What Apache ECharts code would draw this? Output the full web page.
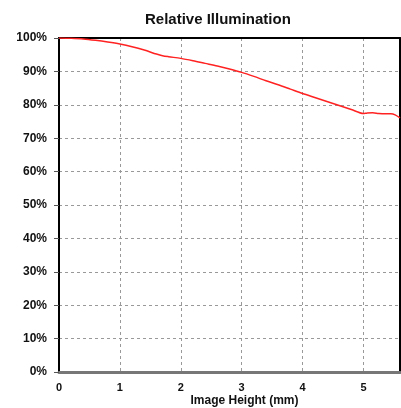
<!DOCTYPE html>
<html><head><meta charset="utf-8">
<script src="https://cdn.jsdelivr.net/npm/echarts@6/dist/echarts.min.js"></script>
<style>html,body{margin:0;padding:0;background:#fff}#c{width:401px;height:408px}</style>
</head><body><div id="c"></div>
<script>
const imageHeight = [0,0.2,0.4,0.6,0.8,1.0,1.2,1.4,1.6,1.7,1.8,2.0,2.2,2.4,2.6,2.8,3.0,3.2,3.4,3.6,3.8,4.0,4.2,4.4,4.6,4.8,5.0,5.05,5.15,5.25,5.35,5.45,5.52,5.6];
const illumination = [100,99.9,99.7,99.3,98.8,98.2,97.4,96.4,95.2,94.7,94.4,93.9,93.2,92.4,91.6,90.7,89.7,88.5,87.2,86.0,84.7,83.4,82.2,81.0,79.8,78.6,77.4,77.5,77.6,77.4,77.3,77.3,77.0,76.1];
const xTicks = [0,1,2,3,4,5];
const yTicks = [0,10,20,30,40,50,60,70,80,90,100];

const chart = echarts.init(document.getElementById('c'), null, {renderer:'canvas'});
const font = 'Liberation Sans, Arial, sans-serif';
const dash = {show:true, lineStyle:{color:'#999', type:[3,3], width:1}};
chart.setOption({
  animation:false,
  title:{text:'Relative Illumination', left:140, top:7,
    textStyle:{fontFamily:font, fontWeight:'bold', fontSize:15, color:'#111'}},
  grid:{left:59, right:1, top:38, bottom:36, containLabel:false, outerBoundsMode:'none'},
  xAxis:[{type:'value', min:0, max:5.6, interval:1,
    name:'Image Height (mm)', nameLocation:'middle', nameGap:23, nameMoveOverlap:false,
    nameTextStyle:{fontFamily:font, fontWeight:'bold', fontSize:12, color:'#111', padding:[0,0,0,30]},
    axisLine:{show:true, onZero:false, lineStyle:{color:'#777', width:3}},
    axisTick:{show:false},
    axisLabel:{showMaxLabel:false, margin:10, fontFamily:font, fontWeight:'bold', fontSize:11, color:'#111',
      formatter:v=>xTicks.includes(v)?String(v):''},
    splitLine:dash, z:3
  },{type:'value', position:'top', min:0, max:5.6, interval:1,
    axisLine:{show:true, onZero:false, lineStyle:{color:'#000', width:2}},
    axisTick:{show:false}, axisLabel:{show:false}, splitLine:{show:false}, z:3}],
  yAxis:[{type:'value', min:0, max:100, interval:10,
    axisLine:{show:true, lineStyle:{color:'#000', width:2}},
    axisTick:{show:true, length:5, lineStyle:{color:'#555', width:1}},
    axisLabel:{margin:12, fontFamily:font, fontWeight:'bold', fontSize:12, color:'#111',
      formatter:v=>yTicks.includes(v)?v+'%':''},
    splitLine:dash, z:3
  },{type:'value', position:'right', min:0, max:100, interval:10,
    axisLine:{show:true, onZero:false, lineStyle:{color:'#000', width:2}},
    axisTick:{show:false}, axisLabel:{show:false}, splitLine:{show:false}, z:3}],
  series:[{type:'line', data:imageHeight.map((x,i)=>[x,illumination[i]]), showSymbol:false, smooth:0.3,
    lineStyle:{color:'#ff2222', width:1.5}, z:5}]
});
</script></body></html>
